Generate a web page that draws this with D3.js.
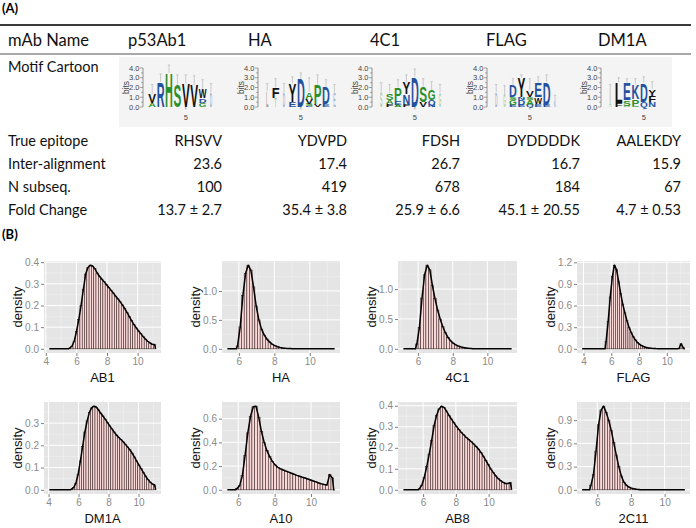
<!DOCTYPE html>
<html><head><meta charset="utf-8">
<script src="https://cdn.jsdelivr.net/npm/d3@7"></script>
<style>body{margin:0;background:#fff}</style></head>
<body>
<svg id="c" width="696" height="528"></svg>
<script>
// ---------------- DATA ----------------
const mabNames = ["p53Ab1","HA","4C1","FLAG","DM1A"];
const rowLabels = ["True epitope","Inter-alignment","N subseq.","Fold Change"];
const trueEpitope = ["RHSVV","YDVPD","FDSH","DYDDDDK","AALEKDY"];
const interAlignment = [23.6,17.4,26.7,16.7,15.9];
const nSubseq = [100,419,678,184,67];
const foldMean = ["13.7","35.4","25.9","45.1","4.7"];
const foldSD = ["2.7","3.8","6.6","20.55","0.53"];

// sequence logos: each column = stack of [letter, bits] bottom->top, e = error bar top, f = faint
const logoP53 = [
  {s:[["A",.45],["V",.9]], e:2.3},
  {s:[["R",2.6]], e:3.4},
  {s:[["H",3.5]], e:4.3},
  {s:[["S",2.25]], e:3.3},
  {s:[["V",2.4]], e:3.3},
  {s:[["V",2.25]], e:3.2},
  {s:[["G",.45],["D",.45],["W",.95]], e:2.8},
  {s:[["D",1.5]], e:2.4, f:1},
  {s:[], e:0}
];
const logoHA = [
  {s:[["L",1.6]], e:2.4, f:1},
  {s:[["T",.9]], e:2.9, f:1, s2:[["F",1.1]]},
  {s:[["D",1.5]], e:2.4, f:1},
  {s:[["E",.55],["Y",1.9]], e:3.1},
  {s:[["D",2.9]], e:3.5},
  {s:[["E",.15],["S",.2],["V",.5],["A",.7]], e:3.0},
  {s:[["V",.3],["P",2.0]], e:3.3},
  {s:[["E",.3],["D",1.75]], e:2.8},
  {s:[["E",1.5]], e:2.3, f:1}
];
const logo4C1 = [
  {s:[["S",1.6]], e:2.5, f:1},
  {s:[["F",.3],["A",.45],["S",.7]], e:2.3},
  {s:[["A",.2],["E",.45],["P",1.35]], e:2.8},
  {s:[["F",.2],["N",1.1],["Y",1.2]], e:3.3},
  {s:[["D",3.1]], e:3.9},
  {s:[["V",.5],["S",1.6]], e:2.9},
  {s:[["N",.2],["Q",.5],["G",1.0]], e:2.6},
  {s:[["G",1.5]], e:2.3, f:1},
  {s:[], e:0}
];
const logoFLAG = [
  {s:[["D",1.5]], e:2.3, f:1},
  {s:[["G",1.3]], e:2.2, f:1},
  {s:[["E",.2],["G",.5],["S",.3],["D",1.2]], e:2.9},
  {s:[["E",.2],["D",.55],["N",.25],["Y",2.0]], e:3.3},
  {s:[["Q",.2],["A",.55],["S",.25],["V",.7]], e:2.9},
  {s:[["E",.3],["W",.7],["E",1.5]], e:3.1},
  {s:[["E",.25],["D",2.35]], e:3.3},
  {s:[["K",.6]], e:1.2, f:1},
  {s:[], e:0}
];
const logoDM1A = [
  {s:[["A",.6]], e:2.3, f:1},
  {s:[["F",.45],["L",2.1]], e:3.0},
  {s:[["A",.15],["S",.55],["E",1.7]], e:2.9},
  {s:[["S",.15],["P",.7],["K",1.5]], e:2.9},
  {s:[["Q",.55],["D",1.9]], e:3.1},
  {s:[["N",.55],["F",.6],["Y",.7]], e:2.6},
  {s:[], e:0},{s:[], e:0},{s:[], e:0}
];
const logos = [logoP53, logoHA, logo4C1, logoFLAG, logoDM1A];
const logoYTicks = [0,1,2,3,4];
const logoPosLabel = 5;

// histograms (density per bin, bin width 0.15)
const histNames = ["AB1","HA","4C1","FLAG","DM1A","A10","AB8","2C11"];
const binWidth = 0.15;
const binStarts = [5.48,5.85,5.85,5.55,5.45,5.85,5.7,5.55];
const lineRanges = [[4.23,11.18],[5.35,11.4],[5.15,11.4],[3.9,11.3],[4.05,11.15],[5.4,11.3],[4.8,11.4],[5.1,11.2]];
const densAB1 = [0.003,0.012,0.035,0.08,0.135,0.2,0.275,0.345,0.375,0.386,0.382,0.37,0.35,0.335,0.322,0.31,0.297,0.284,0.271,0.258,0.244,0.231,0.217,0.203,0.186,0.168,0.149,0.13,0.112,0.097,0.083,0.07,0.057,0.045,0.035,0.027,0.021,0.02];
const densHA = [0.05,0.38,0.92,1.3,1.445,1.36,1.07,0.74,0.5,0.34,0.24,0.17,0.12,0.08,0.055,0.037,0.025,0.016,0.01,0.006,0.004];
const dens4C1 = [0.08,0.36,0.85,1.24,1.4,1.32,1.06,0.84,0.65,0.5,0.37,0.27,0.19,0.135,0.095,0.066,0.046,0.032,0.022,0.015,0.01,0.007];
const densFLAG = [0.1,0.38,0.72,1.0,1.16,1.1,0.94,0.77,0.62,0.5,0.39,0.3,0.23,0.17,0.125,0.09,0.065,0.046,0.032,0.022,0.015,0.01,0.007,0.005,0.003,0.002,0,0,0,0,0,0,0,0,0,0.004,0.07,0.02];
const densDM1A = [0.003,0.01,0.03,0.07,0.13,0.195,0.26,0.31,0.348,0.368,0.376,0.372,0.36,0.345,0.332,0.318,0.303,0.288,0.274,0.26,0.247,0.236,0.226,0.216,0.205,0.193,0.18,0.165,0.148,0.13,0.112,0.095,0.078,0.062,0.047,0.035,0.026,0.022];
const densA10 = [0.01,0.035,0.12,0.29,0.48,0.62,0.7,0.705,0.61,0.49,0.4,0.33,0.28,0.24,0.21,0.19,0.177,0.167,0.158,0.149,0.14,0.131,0.122,0.114,0.106,0.099,0.091,0.083,0.075,0.067,0.058,0.05,0.044,0.04,0.128,0.1];
const densAB8 = [0.005,0.022,0.06,0.11,0.17,0.235,0.305,0.355,0.385,0.398,0.392,0.375,0.355,0.337,0.32,0.303,0.288,0.274,0.262,0.25,0.24,0.23,0.219,0.207,0.194,0.178,0.16,0.14,0.12,0.1,0.083,0.067,0.054,0.044,0.036,0.03,0.03,0.034];
const dens2C11 = [0.06,0.2,0.5,0.84,1.03,1.08,1.0,0.9,0.77,0.61,0.45,0.3,0.18,0.1,0.06,0.036,0.022,0.013,0.008,0.005];
const histDens = [densAB1,densHA,dens4C1,densFLAG,densDM1A,densA10,densAB8,dens2C11];
const xTicks = [[4,6,8,10],[6,8,10],[6,8,10],[4,6,8,10],[4,6,8,10],[6,8,10],[6,8,10],[6,8,10]];
const yTicks = [[0,.1,.2,.3,.4],[0,.5,1],[0,.5,1],[0,.3,.6,.9,1.2],[0,.1,.2,.3],[0,.2,.4,.6],[0,.1,.2,.3,.4],[0,.3,.6,.9]];

// ---------------- LAYOUT ----------------
const svg = d3.select("#c");
const TF = "Lato, 'Open Sans', sans-serif";
const GF = "'Liberation Sans', Arial, sans-serif";

svg.append("text").attr("x",2).attr("y",13).text("(A)")
  .attr("font-family",TF).attr("font-weight","bold").attr("font-size",13);
svg.append("text").attr("x",2).attr("y",239).text("(B)")
  .attr("font-family",TF).attr("font-weight","bold").attr("font-size",13);

svg.append("line").attr("x1",0).attr("x2",691).attr("y1",25).attr("y2",25).attr("stroke","#3a3a3a").attr("stroke-width",2);
svg.append("line").attr("x1",0).attr("x2",691).attr("y1",54).attr("y2",54).attr("stroke","#555").attr("stroke-width",1.2);

const hdrX = [128,248,370,486,598];
const valRight = [222,347,460,580,681];
svg.append("text").attr("x",8).attr("y",40).attr("dominant-baseline","central").text("mAb Name")
  .attr("font-family",TF).attr("font-size",16.5).attr("fill","#111");
svg.selectAll(".hdr").data(mabNames).join("text").attr("x",(d,i)=>hdrX[i]).attr("y",40)
  .attr("dominant-baseline","central").text(d=>d).attr("font-family",TF).attr("font-size",16.5).attr("fill","#111");
svg.append("text").attr("x",8).attr("y",66).attr("dominant-baseline","central").text("Motif Cartoon")
  .attr("font-family",TF).attr("font-size",14.5).attr("fill","#111");

const rowY = [140,163,186,209];
const rowVals = [
  trueEpitope,
  interAlignment.map(d=>d.toFixed(1)),
  nSubseq.map(String),
  foldMean.map((m,i)=>m+" \u00b1 "+foldSD[i])
];
rowLabels.forEach((lab,r)=>{
  svg.append("text").attr("x",8).attr("y",rowY[r]).attr("dominant-baseline","central").text(lab)
    .attr("font-family",TF).attr("font-size",14.5).attr("fill","#111");
  svg.selectAll(".rv"+r).data(rowVals[r]).join("text").attr("x",(d,i)=>valRight[i]).attr("y",rowY[r])
    .attr("text-anchor","end").attr("dominant-baseline","central").text(d=>d)
    .attr("font-family",TF).attr("font-size",14.5).attr("fill","#111");
});

// ---------------- LOGOS ----------------
svg.append("rect").attr("x",119).attr("y",57).attr("width",553).attr("height",70).attr("fill","#f4f4f4");
const logoAxisX = [143,258,372,487,601];
const ly = d3.scaleLinear([0,4],[107,68]);
const colW = 8.4;
const blue = "#24519f", green = "#2b8f2b", black = "#111";
function letterColor(ch){
  if ("RKDENQ".includes(ch)) return blue;
  if ("HSPGATC".includes(ch)) return green;
  return black;
}
const meas = svg.append("text").attr("font-family",GF).attr("font-weight","bold").attr("font-size",100).attr("visibility","hidden");
const advCache = {};
function adv(ch){ if(!(ch in advCache)){ meas.text(ch); advCache[ch] = meas.node().getComputedTextLength(); } return advCache[ch]; }
const CAP = 71;
function drawLetter(g, ch, cx, w, yBot, yTop, faint){
  const h = yBot - yTop; if (h <= 0.2) return;
  const ww = faint ? w*0.32 : w;
  g.append("text").text(ch).attr("font-family",GF).attr("font-weight","bold").attr("font-size",100)
    .attr("fill",letterColor(ch)).attr("fill-opacity",faint?0.4:1)
    .attr("transform",`translate(${cx-ww/2},${yBot}) scale(${ww/adv(ch)},${h/CAP})`);
}
logos.forEach((cols,li)=>{
  const ax = logoAxisX[li];
  const g = svg.append("g");
  const lx = i => ax + 5 + colW*(i+0.5);
  g.append("line").attr("x1",ax).attr("x2",ax).attr("y1",ly(0)).attr("y2",ly(4)).attr("stroke","#555").attr("stroke-width",0.6);
  d3.range(0,4.01,0.5).forEach(t=>{
    const major = Math.abs(t-Math.round(t))<1e-6;
    g.append("line").attr("x1",ax-(major?3:1.8)).attr("x2",ax).attr("y1",ly(t)).attr("y2",ly(t)).attr("stroke","#555").attr("stroke-width",0.5);
  });
  g.selectAll(".yl").data(logoYTicks).join("text").attr("x",ax-3.5).attr("y",d=>ly(d)).attr("text-anchor","end")
    .attr("dominant-baseline","central").text(d=>d.toFixed(1)).attr("font-family",GF).attr("font-size",7.5).attr("fill","#444");
  g.append("text").attr("transform",`translate(${ax-17},${ly(2)}) rotate(-90)`).attr("text-anchor","middle")
    .attr("dominant-baseline","central").text("bits").attr("font-family",GF).attr("font-size",8.5).attr("fill","#444");
  g.append("text").attr("x",lx(logoPosLabel-1)).attr("y",ly(0)+10).attr("text-anchor","middle")
    .attr("dominant-baseline","central").text(logoPosLabel).attr("font-family",GF).attr("font-size",7.5).attr("fill","#444");
  g.append("line").attr("x1",lx(logoPosLabel-1)).attr("x2",lx(logoPosLabel-1)).attr("y1",ly(0)).attr("y2",ly(0)+2.5).attr("stroke","#555").attr("stroke-width",0.5);
  cols.forEach((c,i)=>{
    const cx = lx(i);
    let acc = 0;
    const stack = c.s.map(l=>[l[0],l[1],!!c.f]).concat((c.s2||[]).map(l=>[l[0],l[1],false]));
    stack.forEach(([ch,b,faint])=>{
      drawLetter(g, ch, cx, colW-0.6, ly(acc), ly(acc+b), faint);
      acc += b;
    });
    if (c.e > acc) {
      g.append("line").attr("x1",cx).attr("x2",cx).attr("y1",ly(acc)).attr("y2",ly(c.e)).attr("stroke","#b8b8b8").attr("stroke-width",0.7);
      g.append("line").attr("x1",cx-1.2).attr("x2",cx+1.2).attr("y1",ly(c.e)).attr("y2",ly(c.e)).attr("stroke","#b8b8b8").attr("stroke-width",0.7);
    }
  });
});

// ---------------- HISTOGRAMS ----------------
const panelX = [[44,161],[222,340],[398,517],[577,690]];
const panelY = [[261,353],[402,494]];
histNames.forEach((name,pi)=>{
  const [px0,px1] = panelX[pi%4];
  const [py0,py1] = panelY[Math.floor(pi/4)];
  const w = px1-px0, h = py1-py0;
  const [lo,hi] = lineRanges[pi];
  const r = hi-lo;
  const x = d3.scaleLinear([lo-0.05*r, hi+0.05*r],[0,w]);
  const vals = histDens[pi];
  const M = d3.max(vals);
  const y = d3.scaleLinear([-0.05*M, 1.05*M],[h,0]);
  const g = svg.append("g").attr("transform",`translate(${px0},${py0})`);
  g.append("rect").attr("width",w).attr("height",h).attr("fill","#e5e5e5");
  const xt = xTicks[pi], yt = yTicks[pi];
  const xs = xt[1]-xt[0], ys = yt[1]-yt[0];
  const [xd0,xd1] = x.domain(), [yd0,yd1] = y.domain();
  const xMinor = d3.range(xt[0]-xs*1.5, xd1, xs/2).filter(v=>v>xd0&&v<xd1&&!xt.some(t=>Math.abs(t-v)<1e-6));
  const yMinor = d3.range(yt[0]-ys/2, yd1, ys/2).filter(v=>v>yd0&&v<yd1&&!yt.some(t=>Math.abs(t-v)<1e-6));
  g.selectAll(".xm").data(xMinor).join("line").attr("x1",d=>x(d)).attr("x2",d=>x(d)).attr("y1",0).attr("y2",h).attr("stroke","#f2f2f2").attr("stroke-width",0.5);
  g.selectAll(".ym").data(yMinor).join("line").attr("y1",d=>y(d)).attr("y2",d=>y(d)).attr("x1",0).attr("x2",w).attr("stroke","#f2f2f2").attr("stroke-width",0.5);
  g.selectAll(".xg").data(xt).join("line").attr("x1",d=>x(d)).attr("x2",d=>x(d)).attr("y1",0).attr("y2",h).attr("stroke","#fff").attr("stroke-width",1);
  g.selectAll(".yg").data(yt.filter(v=>v<=yd1)).join("line").attr("y1",d=>y(d)).attr("y2",d=>y(d)).attr("x1",0).attr("x2",w).attr("stroke","#fff").attr("stroke-width",1);
  const s0 = binStarts[pi];
  g.selectAll(".bar").data(vals).join("rect")
    .attr("x",(d,i)=>x(s0+i*binWidth)).attr("width",(d,i)=>x(s0+(i+1)*binWidth)-x(s0+i*binWidth))
    .attr("y",d=>y(d)).attr("height",d=>Math.max(0,y(0)-y(d)))
    .attr("fill","#f9d8d8").attr("stroke","#3a2424").attr("stroke-width",0.55);
  const pts = [[lo,0],[s0,0]].concat(vals.map((v,i)=>[s0+(i+0.5)*binWidth,v])).concat([[s0+vals.length*binWidth,0],[hi,0]]);
  pts.sort((a,b)=>a[0]-b[0]);
  g.append("path").attr("d",d3.line().x(d=>x(d[0])).y(d=>y(d[1]))(pts))
    .attr("fill","none").attr("stroke","#000").attr("stroke-width",1.5).attr("stroke-linejoin","round");
  const ay = g.append("g").call(d3.axisLeft(y).tickValues(yt.filter(v=>v<=yd1)).tickSize(3).tickPadding(2).tickFormat(d3.format(".1f")));
  const axb = g.append("g").attr("transform",`translate(0,${h})`).call(d3.axisBottom(x).tickValues(xt).tickSize(3).tickPadding(2).tickFormat(d3.format("d")));
  [ay,axb].forEach(a=>{
    a.select(".domain").remove();
    a.selectAll(".tick line").attr("stroke","#7f7f7f");
    a.selectAll(".tick text").attr("fill","#8a8a8a").attr("font-family",GF).attr("font-size",10);
  });
  g.append("text").attr("transform",`translate(-27,${h/2}) rotate(-90)`).attr("text-anchor","middle")
    .attr("dominant-baseline","central").text("density").attr("font-family",GF).attr("font-size",13).attr("fill","#111");
  g.append("text").attr("x",w/2).attr("y",h+24).attr("text-anchor","middle")
    .attr("dominant-baseline","central").text(name).attr("font-family",GF).attr("font-size",13).attr("fill","#111");
});
</script>
</body></html>
